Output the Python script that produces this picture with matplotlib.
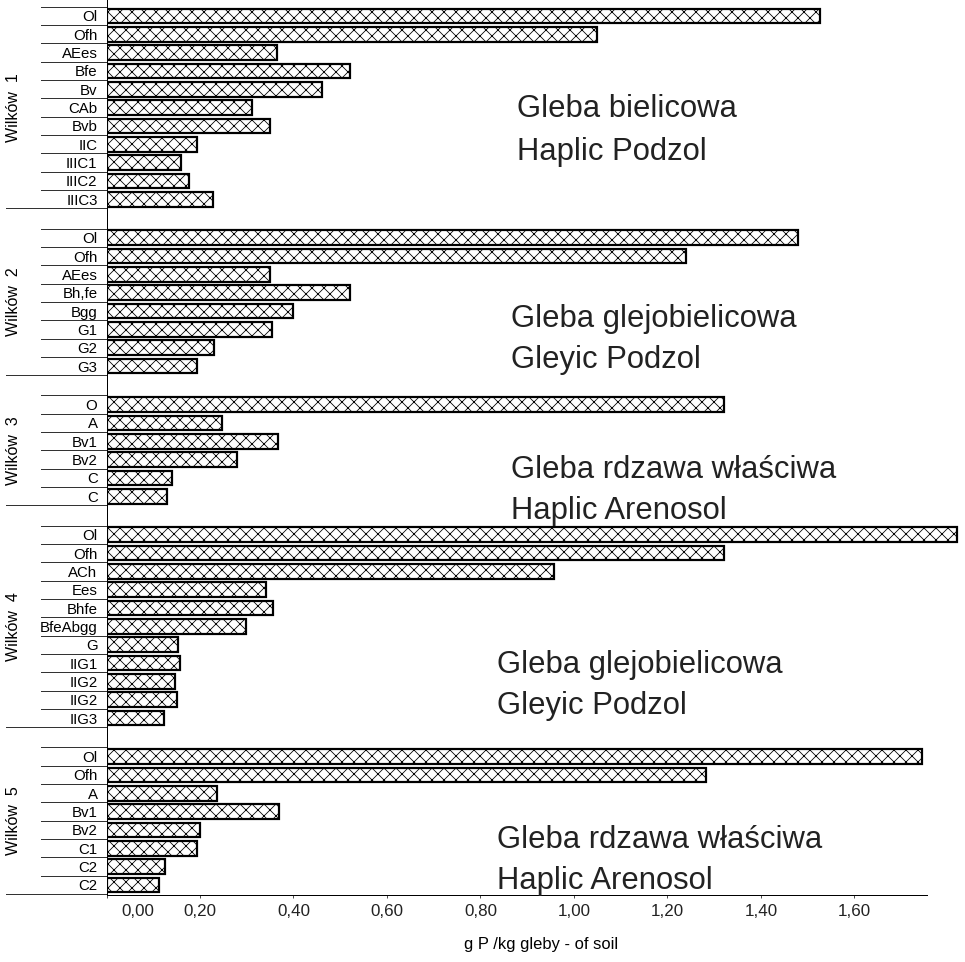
import matplotlib.pyplot as plt
from matplotlib.transforms import blended_transform_factory, ScaledTranslation

plt.rcParams['font.family'] = ['Liberation Sans', 'DejaVu Sans']
plt.rcParams['hatch.linewidth'] = 0.8

# profiles and horizons (top to bottom)
profiles = ["Wilków  1", "Wilków  2", "Wilków  3", "Wilków  4", "Wilków  5"]

horizons_w1 = ["Ol", "Ofh", "AEes", "Bfe", "Bv", "CAb", "Bvb", "IIC", "IIIC1", "IIIC2", "IIIC3"]
values_w1 = [1.526, 1.050, 0.364, 0.520, 0.460, 0.311, 0.350, 0.194, 0.160, 0.177, 0.227]

horizons_w2 = ["Ol", "Ofh", "AEes", "Bh,fe", "Bgg", "G1", "G2", "G3"]
values_w2 = [1.480, 1.240, 0.350, 0.520, 0.400, 0.355, 0.230, 0.194]

horizons_w3 = ["O", "A", "Bv1", "Bv2", "C", "C"]
values_w3 = [1.320, 0.246, 0.366, 0.279, 0.140, 0.129]

horizons_w4 = ["Ol", "Ofh", "ACh", "Ees", "Bhfe", "BfeAbgg", "G", "IIG1", "IIG2", "IIG2", "IIG3"]
values_w4 = [1.820, 1.320, 0.957, 0.341, 0.357, 0.298, 0.154, 0.157, 0.147, 0.150, 0.124]

horizons_w5 = ["Ol", "Ofh", "A", "Bv1", "Bv2", "C1", "C2", "C2"]
values_w5 = [1.745, 1.283, 0.237, 0.370, 0.201, 0.193, 0.125, 0.112]

soil_pl = ["Gleba bielicowa", "Gleba glejobielicowa", "Gleba rdzawa właściwa",
           "Gleba glejobielicowa", "Gleba rdzawa właściwa"]
soil_en = ["Haplic Podzol", "Gleyic Podzol", "Haplic Arenosol",
           "Gleyic Podzol", "Haplic Arenosol"]

x_ticks = [0.0, 0.2, 0.4, 0.6, 0.8, 1.0, 1.2, 1.4, 1.6]
x_tick_labels = ["0,00", "0,20", "0,40", "0,60", "0,80", "1,00", "1,20", "1,40", "1,60"]

groups = [
    (horizons_w1, values_w1),
    (horizons_w2, values_w2),
    (horizons_w3, values_w3),
    (horizons_w4, values_w4),
    (horizons_w5, values_w5),
]

# text block positions in figure pixels (left x, baseline of 1st line, baseline of 2nd line)
text_pos = [(517, 117, 160), (511, 327, 368), (511, 478, 519), (497, 673, 714), (497, 848, 889)]

W, H = 965, 962
fig = plt.figure(figsize=(W / 72, H / 72), dpi=72)
ax = fig.add_axes([106.5 / W, 67 / H, 855.5 / W, 895 / H])

ypos, labels, vals, spans = [], [], [], []
start = 0.0
for horizons, values in groups:
    ys = [start + i for i in range(len(horizons))]
    ypos += ys
    labels += horizons
    vals += values
    spans.append((ys[0], ys[-1]))
    start = ys[-1] + 2.1

ax.barh(ypos, vals, height=0.8, color="white", edgecolor="black",
        linewidth=2.2, hatch="xx")

ax.set_xlim(0, 1.83)
ax.set_ylim(ypos[-1] + 0.55, -0.87)

ax.set_yticks(ypos)
ax.set_yticklabels(labels, fontsize=15)
ax.tick_params(axis="y", length=0, pad=9)

ax.set_xticks(x_ticks)
ax.set_xticklabels(x_tick_labels, fontsize=17)
ax.tick_params(axis="x", length=3, width=0.8, pad=6, colors="#222222")
# first label sits right of the origin in the original
ax.get_xticklabels()[0].set_transform(
    ax.get_xticklabels()[0].get_transform() + ScaledTranslation(31 / 72, 0, fig.dpi_scale_trans))

for s in ["top", "right"]:
    ax.spines[s].set_visible(False)
ax.spines["left"].set_linewidth(1.0)
ax.spines["bottom"].set_linewidth(1.0)
ax.spines["bottom"].set_bounds(0, 1.755)

# separator lines in the category area
trans = blended_transform_factory(ax.transAxes, ax.transData)
x_in = -66 / 855.5
x_out = -101 / 855.5
for (y0, y1) in spans:
    ax.plot([x_in, 0], [y0 - 0.5, y0 - 0.5], color="#333333", lw=1, transform=trans, clip_on=False)
    yy = y0 + 0.5
    while yy < y1:
        ax.plot([x_in, 0], [yy, yy], color="#333333", lw=1, transform=trans, clip_on=False)
        yy += 1
    ax.plot([x_out, 0], [y1 + 0.5, y1 + 0.5], color="#333333", lw=1, transform=trans, clip_on=False)

# profile names
trans_g = blended_transform_factory(fig.transFigure, ax.transData)
for name, (y0, y1) in zip(profiles, spans):
    ax.text(14 / W, (y0 + y1) / 2, name, rotation=90, ha="center", va="center",
            fontsize=16, transform=trans_g)

# soil type annotations
for pl, en, (tx, b1, b2) in zip(soil_pl, soil_en, text_pos):
    fig.text(tx / W, 1 - b1 / H, pl, fontsize=31, va="baseline", ha="left", color="#222222")
    fig.text(tx / W, 1 - b2 / H, en, fontsize=31, va="baseline", ha="left", color="#222222")

fig.text(541 / W, 1 - 949 / H, "g P /kg gleby - of soil", fontsize=16.5, ha="center", va="baseline")

fig.savefig("out.png", dpi=72)
